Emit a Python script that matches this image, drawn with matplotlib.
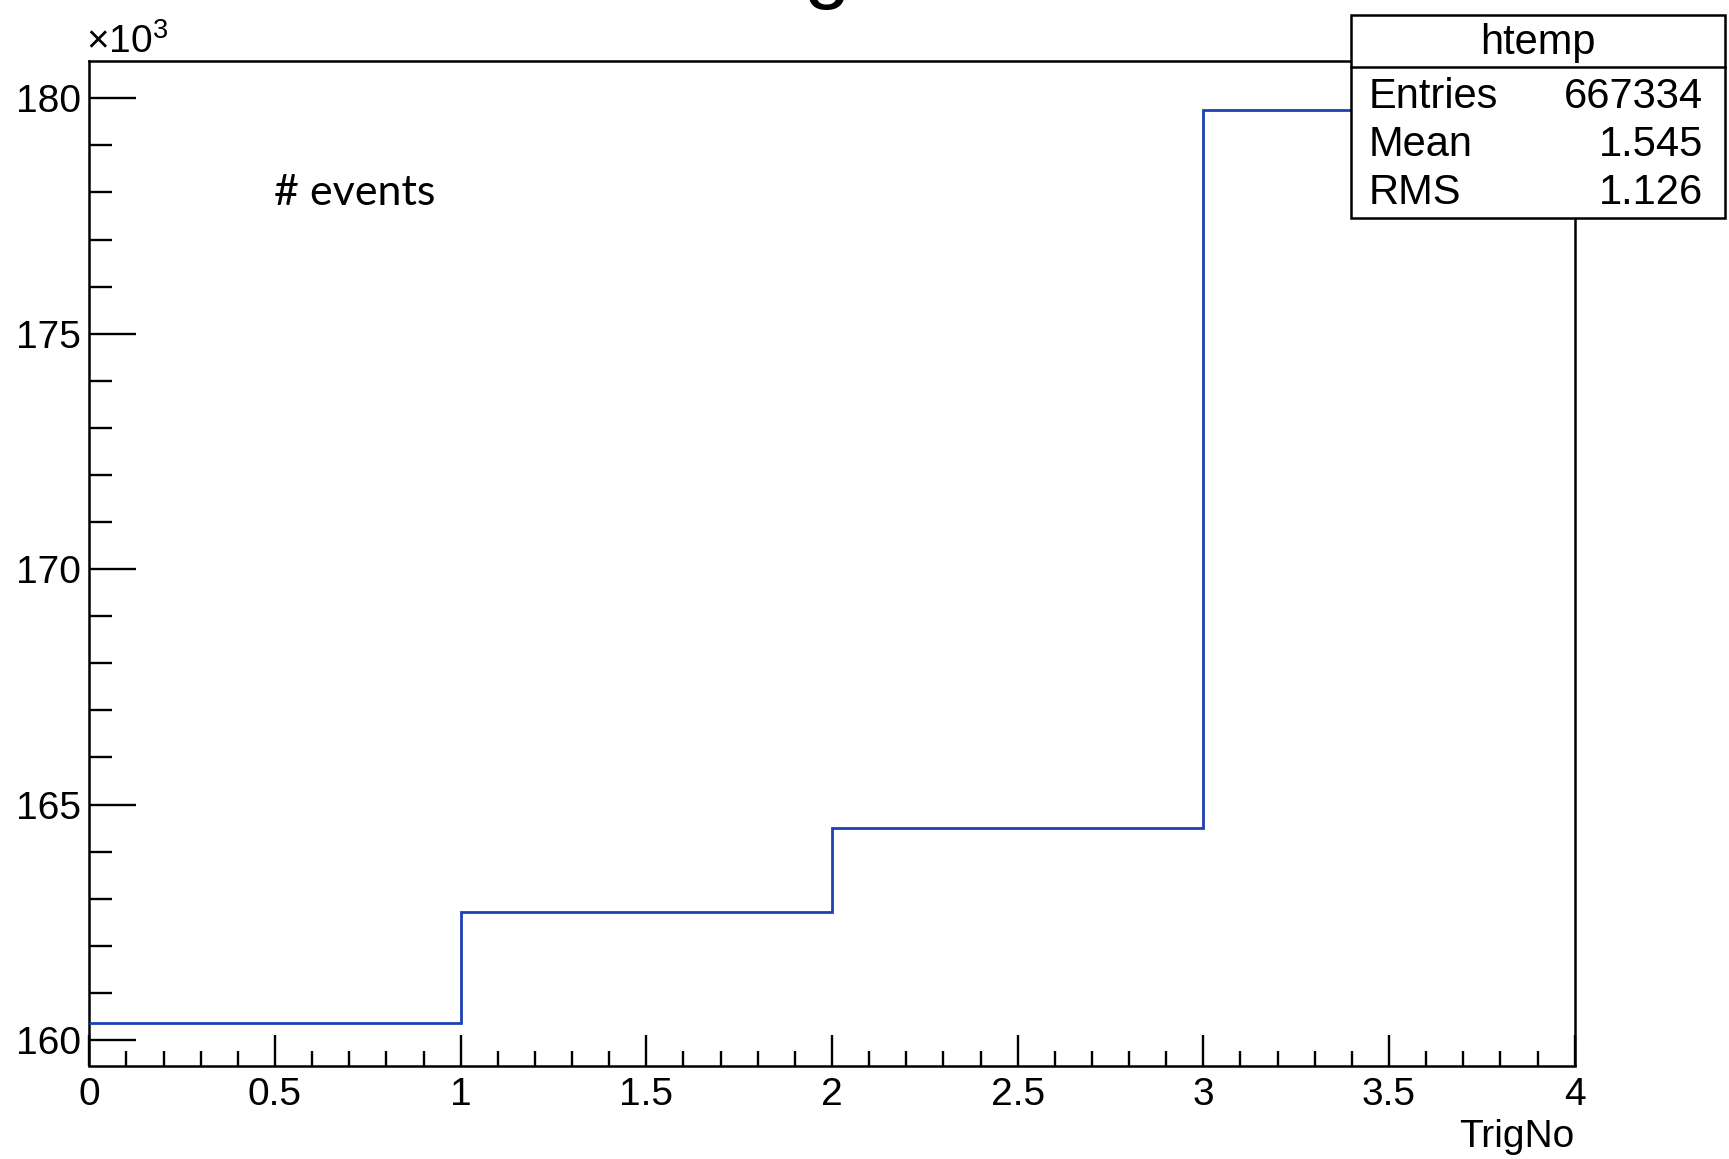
import matplotlib
matplotlib.use("Agg")
import matplotlib.pyplot as plt
from matplotlib.patches import Rectangle
from matplotlib.lines import Line2D
from matplotlib.ticker import MultipleLocator, FuncFormatter

# ---- data ----
bin_edges = [0, 1, 2, 3, 4]
counts = [160370, 162720, 164500, 179744]
x_label = "TrigNo"
title = "TrigNo"
stats_name = "htemp"
stats_labels = ["Entries", "Mean", "RMS"]
stats_values = ["667334", "1.545", "1.126"]
annotation = "# events"

plt.rcParams['font.family'] = ['Liberation Sans', 'DejaVu Sans']
plt.rcParams['mathtext.fontset'] = 'custom'
plt.rcParams['mathtext.rm'] = 'Liberation Sans'
plt.rcParams['mathtext.it'] = 'Liberation Sans'

W, H = 1729, 1159
fig = plt.figure(figsize=(W / 100, H / 100), dpi=100)
ax = fig.add_axes([89.3 / W, 1 - 1065.5 / H, (1574.7 - 89.3) / W, (1065.5 - 60.6) / H])

vals = [c / 1000 for c in counts]
ax.stairs(vals, bin_edges, baseline=None, color='#1f3fb4', linewidth=2.0, zorder=3)

ax.set_xlim(0, 4)
ax.set_ylim(159.458, 180.80)

ax.xaxis.set_major_locator(MultipleLocator(0.5))
ax.xaxis.set_minor_locator(MultipleLocator(0.1))
ax.yaxis.set_major_locator(MultipleLocator(5))
ax.yaxis.set_minor_locator(MultipleLocator(1))
ax.xaxis.set_major_formatter(FuncFormatter(lambda v, p: f"{v:g}"))
ax.yaxis.set_major_formatter(FuncFormatter(lambda v, p: f"{v:g}"))

for s in ax.spines.values():
    s.set_linewidth(1.8)

ax.tick_params(axis='x', which='major', direction='in', length=22, width=1.7,
               labelsize=28, pad=8, top=False)
ax.tick_params(axis='x', which='minor', direction='in', length=11, width=1.7, top=False)
ax.tick_params(axis='y', which='major', direction='in', length=34, width=1.7,
               labelsize=28, pad=6, right=False)
ax.tick_params(axis='y', which='minor', direction='in', length=16.5, width=1.7, right=False)

# x axis label (right aligned, below tick labels)
fig.text(1574 / W, 1 - 1147 / H, x_label, ha='right', va='baseline', fontsize=28)

# multiplier
fig.text(86 / W, 1 - 53 / H, r'$\times10^{3}$', ha='left', va='baseline', fontsize=28)

# title (cut off at the top, as in the reference)
fig.text(834 / W, 1 + 7 / H, title, ha='center', va='baseline', fontsize=60)

# annotation
fig.text(274 / W, 1 - 205 / H, annotation, ha='left', va='baseline', fontsize=31,
         family=['Lato', 'DejaVu Sans'])

# stats box
bx0, bx1 = 1351 / W, 1725 / W
by0, by1 = 1 - 218 / H, 1 - 15 / H
sep = 1 - 66.7 / H
fig.add_artist(Rectangle((bx0, by0), bx1 - bx0, by1 - by0, transform=fig.transFigure,
                         facecolor='white', edgecolor='black', linewidth=1.8, zorder=5))
fig.add_artist(Line2D([bx0, bx1], [sep, sep], transform=fig.transFigure,
                      color='black', linewidth=1.8, zorder=6))
fig.text((bx0 + bx1) / 2, 1 - 43 / H, stats_name, ha='center', va='center',
         fontsize=30, zorder=7)
row_y = [97, 145, 193]
for lab, val, yy in zip(stats_labels, stats_values, row_y):
    fig.text(1369 / W, 1 - yy / H, lab, ha='left', va='center', fontsize=30, zorder=7)
    fig.text(1703 / W, 1 - yy / H, val, ha='right', va='center', fontsize=30, zorder=7)

fig.savefig("out.png", dpi=100)
